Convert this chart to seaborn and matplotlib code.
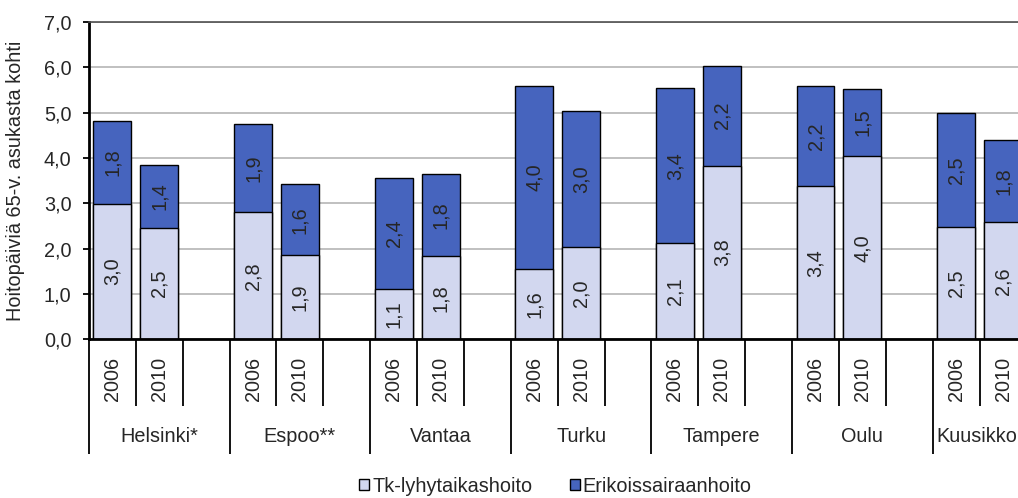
"""
Hoitopäivät 65 vuotta täyttänyttä asukasta kohti, kuusikkokaupungit 2006 ja 2010.
"""

import matplotlib
matplotlib.use('Agg')
import matplotlib.pyplot as plt
from matplotlib.patches import Patch
import pandas as pd
import seaborn as sns

# --- data ---
cities = ["Helsinki*", "Espoo**", "Vantaa", "Turku", "Tampere", "Oulu", "Kuusikko"]
years = ["2006", "2010"]
tk_2006 = [2.99, 2.81, 1.12, 1.56, 2.12, 3.38, 2.47]
tk_2010 = [2.46, 1.86, 1.84, 2.04, 3.83, 4.04, 2.59]
esh_2006 = [1.83, 1.94, 2.44, 4.03, 3.42, 2.20, 2.52]
esh_2010 = [1.38, 1.56, 1.81, 2.99, 2.21, 1.48, 1.80]
series_names = ["Tk-lyhytaikashoito", "Erikoissairaanhoito"]
y_ticks = [0, 1, 2, 3, 4, 5, 6, 7]
y_label = "Hoitopäiviä 65-v. asukasta kohti"

LIGHT = '#D2D7EF'
DARK = '#4664BE'
FS = 14.3

# three slots per city: 2006, 2010 and an empty gap slot
rows = []
for g, city in enumerate(cities):
    for j, (year, tk, esh) in enumerate(zip(years, [tk_2006[g], tk_2010[g]],
                                            [esh_2006[g], esh_2010[g]])):
        rows.append({'city': city, 'year': year, 'pos': 3 * g + j,
                     'tk': tk, 'esh': esh, 'total': tk + esh})
df = pd.DataFrame(rows)

sns.set_theme(style='white')
plt.rcParams['font.family'] = ['Liberation Sans', 'DejaVu Sans']

fig = plt.figure(figsize=(10.18, 4.98), dpi=100)
ax = fig.add_axes([0.0874, 0.3183, 0.9126, 0.6376])

# stacked bars: full height in dark, lower part drawn over it in light
sns.barplot(data=df, x='pos', y='total', native_scale=True, color=DARK,
            saturation=1, edgecolor='black', linewidth=1, width=0.81,
            errorbar=None, ax=ax)
sns.barplot(data=df, x='pos', y='tk', native_scale=True, color=LIGHT,
            saturation=1, edgecolor='black', linewidth=1, width=0.81,
            errorbar=None, ax=ax)

# value labels inside segments
for _, r in df.iterrows():
    ax.text(r['pos'], r['tk'] / 2, f"{r['tk']:.1f}".replace('.', ','),
            rotation=90, ha='center', va='center', fontsize=FS)
    ax.text(r['pos'], r['tk'] + r['esh'] / 2, f"{r['esh']:.1f}".replace('.', ','),
            rotation=90, ha='center', va='center', fontsize=FS)

# y axis
ax.set_yticks(y_ticks)
ax.set_yticklabels([f"{v:.1f}".replace('.', ',') for v in y_ticks], fontsize=FS)
ax.set_ylim(0, 7)
ax.yaxis.grid(True, color='#C0C0C0', linewidth=1.4)
ax.set_axisbelow(True)
ax.tick_params(axis='y', direction='out', length=4.5, width=1.3, color='black',
               pad=8, left=True)
ax.set_ylabel(y_label, fontsize=FS)
ax.yaxis.set_label_coords(-0.069, 0.5)

# x axis: multi-level category layout
x_right = 19.32
ax.set_xlabel('')
major = [3 * g - 0.5 for g in range(len(cities) + 1)]
minor = [3 * g + k for g in range(len(cities)) for k in (0.5, 1.5)]
ax.set_xticks(major)
ax.set_xticks(minor, minor=True)
ax.set_xlim(-0.5, x_right)
ax.tick_params(axis='x', which='major', direction='out', length=83, width=1.3,
               color='black', labelbottom=False, bottom=True)
ax.tick_params(axis='x', which='minor', direction='out', length=48, width=1.3,
               color='black', labelbottom=False, bottom=True)

tr = ax.get_xaxis_transform()
for _, r in df.iterrows():
    ax.text(r['pos'], -0.124, r['year'], rotation=90, ha='center', va='center',
            fontsize=FS, transform=tr, clip_on=False)
for g, city in enumerate(cities):
    cx = 3 * g + 1
    if cx + 0.8 > x_right:
        ax.text(3 * g - 0.42, -0.307, city, ha='left', va='center',
                fontsize=FS, transform=tr, clip_on=False)
    else:
        ax.text(cx, -0.307, city, ha='center', va='center',
                fontsize=FS, transform=tr, clip_on=False)

# spines
ax.spines['left'].set_color('black')
ax.spines['left'].set_linewidth(2)
ax.spines['bottom'].set_color('black')
ax.spines['bottom'].set_linewidth(2)
ax.spines['top'].set_color('#505050')
ax.spines['top'].set_linewidth(1.2)
ax.spines['right'].set_visible(False)

# legend
handles = [Patch(facecolor=LIGHT, edgecolor='black', linewidth=1),
           Patch(facecolor=DARK, edgecolor='black', linewidth=1)]
fig.legend(handles, series_names, loc='center', bbox_to_anchor=(0.5457, 0.024),
           ncol=2, frameon=False, fontsize=FS, handlelength=0.5, handleheight=0.5,
           handletextpad=0.15, columnspacing=1.9, borderpad=0)

fig.savefig('out.png', dpi=100, facecolor='white')
